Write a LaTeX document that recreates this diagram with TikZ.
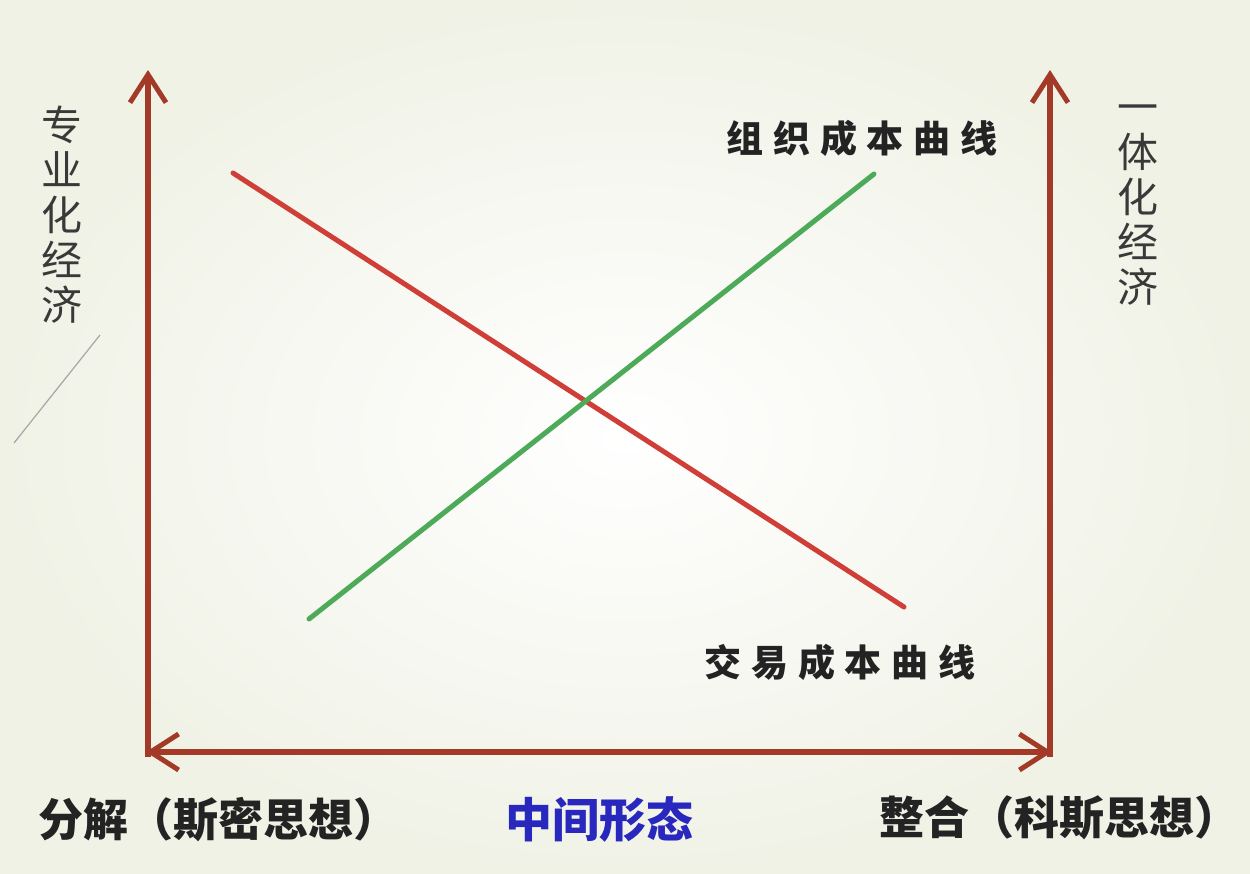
\documentclass[tikz,border=0pt]{standalone}
\usepackage{fontspec}
\newfontfamily\cjk{Noto Sans CJK SC}
\newfontfamily\cjksp[LetterSpace=26]{Noto Sans CJK SC}
\usetikzlibrary{arrows.meta}
\definecolor{bgc}{RGB}{240,242,230}
\definecolor{axisred}{RGB}{163,58,40}
\definecolor{costred}{RGB}{208,62,56}
\definecolor{costgreen}{RGB}{76,170,88}
\definecolor{txt}{RGB}{35,35,35}
\definecolor{midblue}{RGB}{40,40,190}
\tikzset{
  axis/.style={draw=axisred, line width=6pt, -{Straight Barb[length=28pt,width=36pt,line width=5pt]}},
  axis2/.style={draw=axisred, line width=6pt, {Straight Barb[length=28pt,width=36pt,line width=5pt]}-{Straight Barb[length=28pt,width=36pt,line width=5pt]}},
  curve/.style={line width=5pt, line cap=round},
  vlabel/.style={font=\cjk\fontsize{41}{45}\selectfont, text=txt!90, align=center, inner sep=0pt},
  clabel/.style={font=\cjksp\bfseries\fontsize{37}{40}\selectfont, text=txt, inner sep=0pt},
  blabel/.style={font=\cjk\bfseries\fontsize{45}{48}\selectfont, text=txt, inner sep=0pt},
}
\begin{document}
\begin{tikzpicture}[x=1pt,y=-1pt]
\useasboundingbox (0,0) rectangle (1250,873);
\shade[inner color=white, outer color=bgc] (0,0) rectangle (1250,873);
% faint diagonal mark at left
\coordinate (m1) at (100,335);
\coordinate (m2) at (14,443);
\draw[gray!70, line width=1.2pt] (m1) -- (m2);
% axes
\coordinate (lb) at (148,757);
\coordinate (lt) at (148,70);
\coordinate (rb) at (1050,757);
\coordinate (rt) at (1050,70);
\coordinate (hl) at (146,752);
\coordinate (hr) at (1052,752);
\draw[axis] (lb) -- (lt);
\draw[axis] (rb) -- (rt);
\draw[axis2] (hl) -- (hr);
% curves
\coordinate (r1) at (233,173);
\coordinate (r2) at (904,607);
\coordinate (g1) at (309,619);
\coordinate (g2) at (874,174);
\draw[curve, costred] (r1) -- (r2);
\draw[curve, costgreen] (g1) -- (g2);
% labels
\node[clabel] (org) at (862,138) {组织成本曲线};
\node[clabel] (tra) at (840,662) {交易成本曲线};
\node[vlabel] (spec) at (62,215) {专\\业\\化\\经\\济};
\node[vlabel] (integ) at (1138,205) {一\\体\\化\\经\\济};
\node[blabel, anchor=west] (dec) at (38,820) {分解（斯密思想）};
\node[blabel, text=midblue, font=\cjk\bfseries\fontsize{47}{50}\selectfont] (mid) at (599,820) {中间形态};
\node[blabel, anchor=east] (int) at (1240,818) {整合（科斯思想）};
\end{tikzpicture}
\end{document}
